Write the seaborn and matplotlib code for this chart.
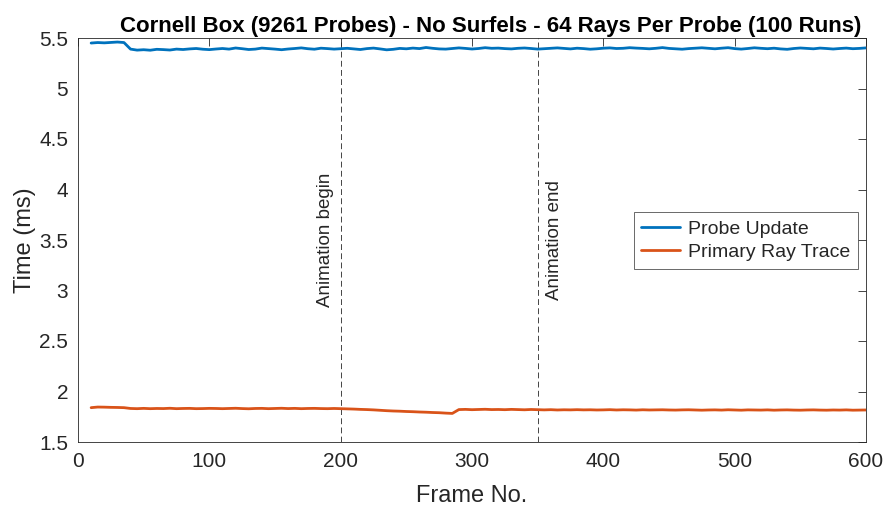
import numpy as np
import pandas as pd
import matplotlib
import matplotlib.pyplot as plt
import seaborn as sns
matplotlib.use('Agg')

# frame numbers (sampled every 5 frames)
frames = list(range(10, 601, 5))

probe_update = [
	5.450, 5.455, 5.452, 5.456, 5.460, 5.455, 5.390, 5.380, 5.384, 5.379,
	5.388, 5.385, 5.381, 5.390, 5.386, 5.392, 5.396, 5.389, 5.385, 5.391,
	5.396, 5.390, 5.401, 5.394, 5.386, 5.390, 5.400, 5.395, 5.390, 5.384,
	5.391, 5.396, 5.402, 5.394, 5.389, 5.399, 5.395, 5.390, 5.394, 5.398,
	5.392, 5.386, 5.395, 5.400, 5.392, 5.383, 5.388, 5.397, 5.393, 5.400,
	5.395, 5.406, 5.398, 5.392, 5.390, 5.396, 5.402, 5.397, 5.391, 5.396,
	5.404, 5.398, 5.400, 5.395, 5.392, 5.398, 5.401, 5.396, 5.390, 5.394,
	5.398, 5.402, 5.397, 5.392, 5.399, 5.395, 5.389, 5.393, 5.399, 5.402,
	5.396, 5.398, 5.404, 5.400, 5.397, 5.393, 5.398, 5.405, 5.397, 5.393,
	5.389, 5.395, 5.399, 5.403, 5.398, 5.393, 5.399, 5.404, 5.395, 5.390,
	5.396, 5.403, 5.398, 5.394, 5.399, 5.392, 5.388, 5.396, 5.401, 5.397,
	5.393, 5.400, 5.396, 5.391, 5.396, 5.400, 5.394, 5.397, 5.402,
]

primary_ray_trace = [
	1.840, 1.846, 1.845, 1.843, 1.842, 1.840, 1.832, 1.830, 1.833, 1.830,
	1.832, 1.831, 1.834, 1.830, 1.832, 1.833, 1.830, 1.831, 1.833, 1.832,
	1.830, 1.832, 1.834, 1.831, 1.829, 1.832, 1.833, 1.830, 1.832, 1.834,
	1.831, 1.833, 1.830, 1.832, 1.833, 1.831, 1.830, 1.832, 1.830, 1.828,
	1.826, 1.823, 1.821, 1.818, 1.814, 1.810, 1.807, 1.805, 1.802, 1.800,
	1.797, 1.795, 1.792, 1.790, 1.786, 1.783, 1.821, 1.823, 1.820, 1.822,
	1.824, 1.821, 1.822, 1.820, 1.823, 1.821, 1.819, 1.822, 1.820, 1.818,
	1.820, 1.817, 1.819, 1.818, 1.820, 1.818, 1.819, 1.817, 1.818, 1.820,
	1.817, 1.819, 1.818, 1.816, 1.819, 1.817, 1.818, 1.819, 1.817, 1.816,
	1.818, 1.819, 1.817, 1.815, 1.817, 1.818, 1.816, 1.819, 1.817, 1.815,
	1.818, 1.817, 1.816, 1.818, 1.815, 1.817, 1.818, 1.816, 1.815, 1.817,
	1.818, 1.816, 1.815, 1.817, 1.816, 1.818, 1.815, 1.816, 1.817,
]

event_labels = ["Animation begin", "Animation end"]
event_frames = [200, 350]

df = pd.concat([
	pd.DataFrame({"frame": frames, "time": probe_update, "series": "Probe Update"}),
	pd.DataFrame({"frame": frames, "time": primary_ray_trace, "series": "Primary Ray Trace"}),
])

sns.set_style("white")
plt.rcParams['font.family'] = ['Liberation Sans', 'DejaVu Sans']
colors = {"Probe Update": "#0072BD", "Primary Ray Trace": "#D95319"}
dark = "#262626"

fig = plt.figure(figsize = (8.9, 5.13), dpi = 100)
ax = fig.add_axes([78/890, 1-442/513, 788/890, 404/513])
sns.lineplot(data = df, x = "frame", y = "time", hue = "series", palette = colors, linewidth = 2, ax = ax)

for fr in event_frames:
	ax.axvline(fr, color = dark, linestyle = (0, (7, 4)), linewidth = 0.6, zorder = 1)
# begin label sits left of its line, end label right of its line
ax.text(event_frames[0] - 5, 3.5, event_labels[0], rotation = 90, ha = "right", va = "center", fontsize = 13.5, color = dark)
ax.text(event_frames[1] + 6, 3.5, event_labels[1], rotation = 90, ha = "left", va = "center", fontsize = 13.5, color = dark)

ax.set_xlim(0, 600)
ax.set_ylim(1.5, 5.5)
ax.set_xticks(np.arange(0, 601, 100))
ax.set_yticks(np.arange(1.5, 5.51, 0.5))
ax.set_yticklabels(["1.5", "2", "2.5", "3", "3.5", "4", "4.5", "5", "5.5"])
ax.tick_params(axis = 'both', direction = 'in', top = True, right = True, length = 6, width = 0.6,
	labelsize = 15, colors = dark)
ax.tick_params(axis = 'x', pad = 7)
ax.tick_params(axis = 'y', pad = 7)
for s in ax.spines.values():
	s.set_color(dark)
	s.set_linewidth(0.6)
ax.set_xlabel("Frame No.", fontsize = 17, color = dark, labelpad = 10)
ax.set_ylabel("Time (ms)", fontsize = 17, color = dark, labelpad = 2)
ax.set_title("Cornell Box (9261 Probes) - No Surfels - 64 Rays Per Probe (100 Runs)", fontsize = 16, fontweight = "bold",
	pad = 4, x = 0.524, color = "black")
leg = ax.legend(loc = "upper right", bbox_to_anchor = (0.99, 0.569), fontsize = 14, frameon = True, fancybox = False,
	edgecolor = dark, handlelength = 2.0, handletextpad = 0.4, borderpad = 0.4, labelspacing = 0.3, borderaxespad = 0)
leg.get_frame().set_linewidth(0.6)
for line in leg.get_lines():
	line.set_linewidth(2)
fig.savefig("out.png")
